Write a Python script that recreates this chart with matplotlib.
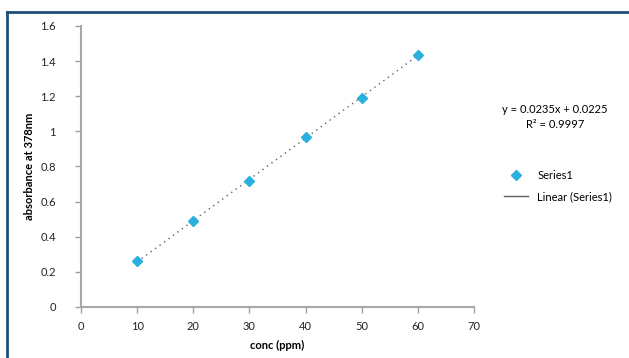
import numpy as np
import matplotlib
matplotlib.use("Agg")
import matplotlib.pyplot as plt
from matplotlib.lines import Line2D

plt.rcParams['font.family'] = ['Lato', 'DejaVu Sans']

conc = [10, 20, 30, 40, 50, 60]
absorbance = [0.26, 0.49, 0.72, 0.97, 1.19, 1.435]
x_ticks = [0, 10, 20, 30, 40, 50, 60, 70]
y_ticks = [0, 0.2, 0.4, 0.6, 0.8, 1, 1.2, 1.4, 1.6]
y_tick_labels = ['0', '0.2', '0.4', '0.6', '0.8', '1', '1.2', '1.4', '1.6']

fig = plt.figure(figsize=(6.29, 3.58), dpi=100)
ax = fig.add_axes([0.1288, 0.1425, 0.6248, 0.785])

# linear trendline
slope, intercept = np.polyfit(conc, absorbance, 1)
xs = np.array([conc[0], conc[-1]])
ax.plot(xs, slope * xs + intercept, linestyle=(0, (1, 3)), color='#606060',
        lw=1.0, label='Linear (Series1)', zorder=2)
ax.plot(conc, absorbance, linestyle='none', marker='D', markersize=5,
        color='#2ab0dc', markeredgecolor='#2ab0dc', label='Series1', zorder=3)

ax.set_xlim(0, 70)
ax.set_ylim(0, 1.6)
ax.set_xticks(x_ticks)
ax.set_yticks(y_ticks)
ax.set_yticklabels(y_tick_labels)
ax.tick_params(labelsize=8, colors='#a0a0a0', labelcolor='#222222', length=4, width=1)
ax.tick_params(axis='x', pad=6)
ax.tick_params(axis='y', pad=14)
for s in ['top', 'right']:
    ax.spines[s].set_visible(False)
for s in ['left', 'bottom']:
    ax.spines[s].set_color('#a8a8a8')
    ax.spines[s].set_linewidth(1.5)

ax.set_xlabel('conc (ppm)', fontsize=8, fontweight='bold', labelpad=6)
ax.set_ylabel('absorbance at 378nm', fontsize=8, fontweight='bold', labelpad=4)

fig.text(0.882, 0.693, 'y = 0.0235x + 0.0225', fontsize=8, ha='center', va='center')
fig.text(0.882, 0.651, 'R² = 0.9997', fontsize=8, ha='center', va='center')

leg = fig.legend(handles=[ax.lines[1], ax.lines[0]], loc='center left',
                 bbox_to_anchor=(0.785, 0.48), frameon=False, fontsize=8,
                 handlelength=2.2, labelspacing=0.9)
leg.legend_handles[1].set_linestyle('-')

# chart area border (top and left visible)
fig.add_artist(Line2D([7 / 629, 1], [1 - 12 / 358, 1 - 12 / 358],
                      transform=fig.transFigure, color='#1f4e79', lw=2))
fig.add_artist(Line2D([7 / 629, 7 / 629], [0, 1 - 12 / 358],
                      transform=fig.transFigure, color='#1f4e79', lw=2))

fig.savefig('out.png', dpi=100)
